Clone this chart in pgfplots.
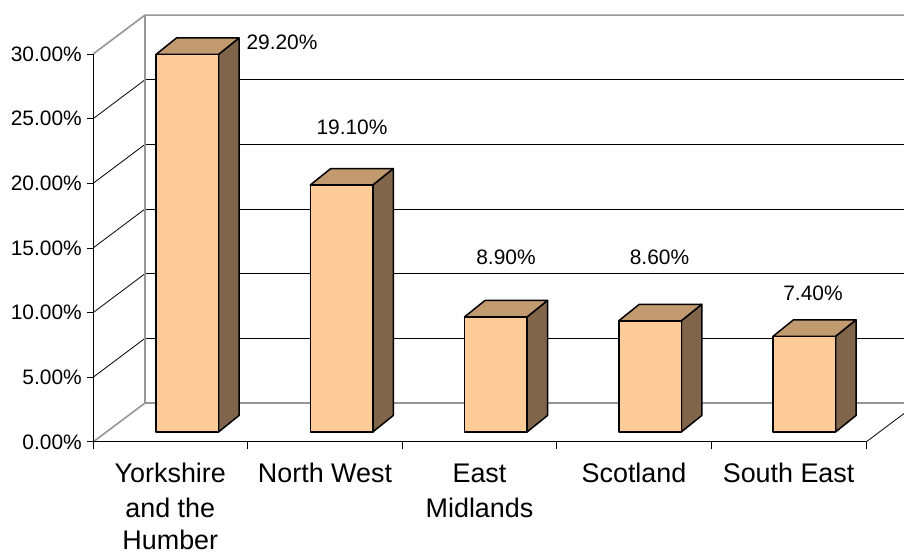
\documentclass[border=0pt]{standalone}
\usepackage{fontspec}
\setmainfont{Liberation Sans}
\usepackage{pgfplots}
\pgfplotsset{compat=1.18}
\definecolor{barfront}{RGB}{255,204,153}
\definecolor{bartop}{RGB}{194,154,112}
\definecolor{barside}{RGB}{128,101,74}
\definecolor{wallgray}{RGB}{150,150,150}
\begin{document}
\begin{tikzpicture}
\begin{axis}[
  scale only axis, width=904bp, height=556bp,
  xmin=0, xmax=904, ymin=-9.590, ymax=33.411,
  hide axis, clip=true,
  every axis plot/.append style={line join=round},
]
% back wall gridlines
\addplot[black, line width=0.8bp] coordinates {(145,7.2428) (918,7.2428)};
\addplot[black, line width=0.8bp] coordinates {(145,12.2428) (918,12.2428)};
\addplot[black, line width=0.8bp] coordinates {(145,17.2428) (918,17.2428)};
\addplot[black, line width=0.8bp] coordinates {(145,22.2428) (918,22.2428)};
\addplot[black, line width=0.8bp] coordinates {(145,27.2428) (918,27.2428)};
% side wall gridlines
\addplot[black, line width=0.8bp] coordinates {(93,4.2266) (145,7.2428)};
\addplot[black, line width=0.8bp] coordinates {(93,9.2266) (145,12.2428)};
\addplot[black, line width=0.8bp] coordinates {(93,14.2266) (145,17.2428)};
\addplot[black, line width=0.8bp] coordinates {(93,19.2266) (145,22.2428)};
\addplot[black, line width=0.8bp] coordinates {(93,24.2266) (145,27.2428)};
% wall edges
\addplot[wallgray, line width=1.6bp] coordinates {(93,29.2266) (145,32.2428) (918,32.2428)};
\addplot[wallgray, line width=1.6bp] coordinates {(145,32.2428) (145,2.2428) (918,2.2428)};
\addplot[wallgray, line width=1.6bp] coordinates {(93,-0.7734) (145,2.2428)};
% floor front and right edges
\addplot[black, line width=1bp] coordinates {(93,-0.7734) (866,-0.7734)};
\addplot[black, line width=0.8bp] coordinates {(866,-0.7734) (918,2.2428)};
% value axis
\addplot[black, line width=1bp] coordinates {(93,-0.7734) (93,29.2266)};
\addplot[black, line width=1bp] coordinates {(87,-0.7734) (93,-0.7734)};
\addplot[black, line width=1bp] coordinates {(87,4.2266) (93,4.2266)};
\addplot[black, line width=1bp] coordinates {(87,9.2266) (93,9.2266)};
\addplot[black, line width=1bp] coordinates {(87,14.2266) (93,14.2266)};
\addplot[black, line width=1bp] coordinates {(87,19.2266) (93,19.2266)};
\addplot[black, line width=1bp] coordinates {(87,24.2266) (93,24.2266)};
\addplot[black, line width=1bp] coordinates {(87,29.2266) (93,29.2266)};
% category ticks
\addplot[black, line width=1bp] coordinates {(93,-0.7734) (93,-1.315)};
\addplot[black, line width=1bp] coordinates {(247.6,-0.7734) (247.6,-1.315)};
\addplot[black, line width=1bp] coordinates {(402.2,-0.7734) (402.2,-1.315)};
\addplot[black, line width=1bp] coordinates {(556.8,-0.7734) (556.8,-1.315)};
\addplot[black, line width=1bp] coordinates {(711.4,-0.7734) (711.4,-1.315)};
\addplot[black, line width=1bp] coordinates {(866,-0.7734) (866,-1.315)};
% bar side faces
\addplot[fill=barside, draw=black, line width=1.5bp] coordinates {(218.5,0) (218.5,29.2) (239,30.476) (239,1.276)} -- cycle;
\addplot[fill=barside, draw=black, line width=1.5bp] coordinates {(372.75,0) (372.75,19.1) (393.25,20.376) (393.25,1.276)} -- cycle;
\addplot[fill=barside, draw=black, line width=1.5bp] coordinates {(527,0) (527,8.9) (547.5,10.176) (547.5,1.276)} -- cycle;
\addplot[fill=barside, draw=black, line width=1.5bp] coordinates {(681.25,0) (681.25,8.6) (701.75,9.876) (701.75,1.276)} -- cycle;
\addplot[fill=barside, draw=black, line width=1.5bp] coordinates {(835.5,0) (835.5,7.4) (856,8.676) (856,1.276)} -- cycle;
% bar top faces
\addplot[fill=bartop, draw=black, line width=1.5bp] coordinates {(156,29.2) (218.5,29.2) (239,30.476) (176.5,30.476)} -- cycle;
\addplot[fill=bartop, draw=black, line width=1.5bp] coordinates {(310.25,19.1) (372.75,19.1) (393.25,20.376) (330.75,20.376)} -- cycle;
\addplot[fill=bartop, draw=black, line width=1.5bp] coordinates {(464.5,8.9) (527,8.9) (547.5,10.176) (485,10.176)} -- cycle;
\addplot[fill=bartop, draw=black, line width=1.5bp] coordinates {(618.75,8.6) (681.25,8.6) (701.75,9.876) (639.25,9.876)} -- cycle;
\addplot[fill=bartop, draw=black, line width=1.5bp] coordinates {(773,7.4) (835.5,7.4) (856,8.676) (793.5,8.676)} -- cycle;
% bar front faces
\addplot[ybar, bar width=62.5, fill=barfront, draw=black, line width=1.5bp]
  coordinates {(187.25,29.2) (341.5,19.1) (495.75,8.9) (650,8.6) (804.25,7.4)};
% value labels
\begin{scope}[every node/.style={font=\fontsize{21}{25}\selectfont, inner sep=0pt}]
\node[anchor=base] at (axis cs:282,29.544) {29.20\%};
\node[anchor=base] at (axis cs:352,22.970) {19.10\%};
\node[anchor=base] at (axis cs:506,12.916) {8.90\%};
\node[anchor=base] at (axis cs:659.5,12.993) {8.60\%};
\node[anchor=base] at (axis cs:813,10.155) {7.40\%};
% tick labels
\node[anchor=east] at (axis cs:82,-0.7734) {0.00\%};
\node[anchor=east] at (axis cs:82,4.2266) {5.00\%};
\node[anchor=east] at (axis cs:82,9.2266) {10.00\%};
\node[anchor=east] at (axis cs:82,14.2266) {15.00\%};
\node[anchor=east] at (axis cs:82,19.2266) {20.00\%};
\node[anchor=east] at (axis cs:82,24.2266) {25.00\%};
\node[anchor=east] at (axis cs:82,29.2266) {30.00\%};
\end{scope}
% category labels
\begin{scope}[every node/.style={font=\fontsize{27}{34}\selectfont, inner sep=0pt, anchor=base}]
\node at (axis cs:170.3,-3.944) {Yorkshire};
\node at (axis cs:170.3,-6.574) {and the};
\node at (axis cs:170.3,-9.126) {Humber};
\node at (axis cs:325,-3.944) {North West};
\node at (axis cs:479.5,-3.944) {East};
\node at (axis cs:479.5,-6.574) {Midlands};
\node at (axis cs:634,-3.944) {Scotland};
\node at (axis cs:788.6,-3.944) {South East};
\end{scope}
\end{axis}
\pgfresetboundingbox
\path[use as bounding box] (current axis.south west) rectangle (current axis.north east);
\end{tikzpicture}
\end{document}
